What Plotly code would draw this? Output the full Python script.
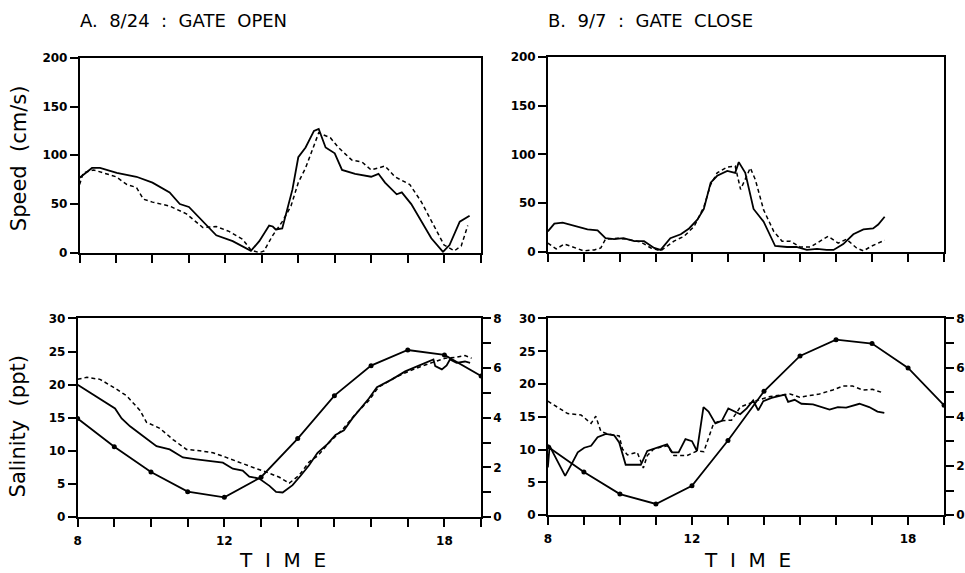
import plotly.graph_objects as go

# ---------------- DATA ----------------
# Panel A (8/24, gate open) - speed (cm/s)
a_spd_solid_t = [8.0, 8.2, 8.34, 8.56, 9.02, 9.56, 10.0, 10.47, 10.75, 11.0, 11.38, 11.75, 12.2, 12.7, 12.93, 13.2, 13.3, 13.38, 13.56, 13.84, 14.0, 14.2, 14.43, 14.56, 14.75, 14.93, 15.0, 15.2, 15.56, 16.0, 16.2, 16.38, 16.7, 16.84, 17.1, 17.65, 17.97, 18.15, 18.43, 18.7]
a_spd_solid_v = [77, 83, 87, 87, 82, 78, 72, 62, 50, 47, 32, 18, 12, 2, 12, 28, 27, 24, 25, 65, 98, 108, 125, 127, 108, 103, 102, 85, 81, 78, 81, 72, 60, 62, 50, 15, 1, 8, 32, 38]
a_spd_dash_t = [8.0, 8.1, 8.38, 8.65, 9.0, 9.3, 9.56, 9.75, 10.0, 10.47, 10.93, 11.38, 11.75, 12.1, 12.47, 12.7, 12.93, 13.06, 13.3, 13.56, 13.8, 14.0, 14.2, 14.56, 14.88, 15.1, 15.47, 15.75, 16.0, 16.38, 16.65, 17.06, 17.38, 18.0, 18.28, 18.47, 18.65]
a_spd_dash_v = [70, 82, 85, 82, 78, 70, 67, 55, 52, 48, 40, 26, 27, 22, 14, 3, 0, 2, 18, 32, 48, 72, 87, 123, 118, 108, 95, 93, 85, 89, 78, 70, 52, 8, 2, 7, 28]

# Panel B (9/7, gate close) - speed (cm/s)
b_spd_solid_t = [8.0, 8.18, 8.41, 8.83, 9.1, 9.38, 9.6, 9.84, 10.1, 10.4, 10.67, 10.95, 11.13, 11.4, 11.69, 11.92, 12.15, 12.33, 12.52, 12.7, 12.98, 13.2, 13.3, 13.48, 13.71, 13.99, 14.31, 14.64, 14.9, 15.19, 15.47, 15.74, 15.93, 16.2, 16.48, 16.76, 17.03, 17.17, 17.35]
b_spd_solid_v = [21, 29, 30, 26, 23, 22, 14, 13, 14, 11, 11, 4, 2, 14, 18, 24, 33, 44, 71, 78, 83, 81, 92, 81, 44, 31, 6, 5, 5, 2, 3, 2, 2, 8, 18, 23, 24, 28, 36]
b_spd_dash_t = [8.0, 8.23, 8.46, 8.74, 9.0, 9.29, 9.47, 9.6, 9.93, 10.2, 10.58, 10.86, 11.13, 11.5, 11.78, 12.06, 12.33, 12.52, 12.7, 12.98, 13.2, 13.35, 13.48, 13.62, 13.76, 13.99, 14.27, 14.5, 14.73, 15.0, 15.29, 15.56, 15.78, 16.06, 16.29, 16.57, 16.76, 16.99, 17.35]
b_spd_dash_v = [9, 3, 8, 4, 1, 2, 4, 13, 14, 13, 10, 4, 1, 11, 16, 26, 46, 69, 81, 87, 88, 64, 74, 86, 74, 43, 21, 11, 11, 5, 5, 11, 16, 9, 13, 4, 1, 6, 12]

# Panel A - salinity (ppt)
a_sal_solid_t = [8.0, 8.34, 8.7, 9.02, 9.2, 9.43, 9.79, 10.15, 10.51, 10.87, 11.24, 11.6, 11.96, 12.23, 12.5, 12.68, 12.95, 13.23, 13.41, 13.59, 13.86, 14.09, 14.31, 14.54, 14.81, 15.03, 15.26, 15.49, 15.76, 15.94, 16.16, 16.57, 16.93, 17.29, 17.7, 17.75, 17.93, 18.06, 18.15, 18.33, 18.56, 18.7]
a_sal_solid_v = [20.0, 18.8, 17.6, 16.4, 14.9, 13.7, 12.2, 10.7, 10.2, 9.0, 8.7, 8.5, 8.2, 7.3, 7.0, 6.1, 5.8, 4.7, 3.8, 3.7, 4.8, 6.3, 7.8, 9.7, 11.0, 12.4, 13.1, 14.9, 16.6, 17.9, 19.6, 20.8, 22.0, 22.8, 23.8, 22.8, 22.3, 22.9, 23.8, 23.3, 23.5, 23.3]
a_sal_dash_t = [8.0, 8.25, 8.61, 8.98, 9.34, 9.7, 9.88, 10.24, 10.6, 10.97, 11.33, 11.69, 12.05, 12.41, 12.77, 13.14, 13.5, 13.77, 14.04, 14.31, 14.54, 14.85, 15.22, 15.58, 15.94, 16.2, 16.66, 17.02, 17.38, 17.75, 18.02, 18.29, 18.56, 18.74]
a_sal_dash_v = [20.8, 21.1, 20.8, 19.6, 18.3, 16.1, 14.3, 13.4, 11.7, 10.2, 10.0, 9.7, 9.0, 8.2, 7.5, 6.8, 6.0, 5.1, 6.3, 8.3, 9.2, 11.2, 13.2, 15.6, 17.6, 19.6, 21.1, 22.0, 22.8, 23.5, 24.0, 24.1, 24.4, 24.0]
# Panel A - hourly level (right axis, 0-8)
a_lvl_t = [8, 9, 10, 11, 12, 13, 14, 15, 16, 17, 18, 19]
a_lvl_v = [3.97, 2.83, 1.81, 1.02, 0.79, 1.6, 3.16, 4.89, 6.10, 6.73, 6.53, 5.68]

# Panel B - salinity (ppt)
b_sal_solid_t = [8.0, 8.05, 8.14, 8.32, 8.48, 8.64, 8.83, 9.01, 9.2, 9.38, 9.61, 9.84, 9.98, 10.16, 10.39, 10.58, 10.76, 11.04, 11.31, 11.45, 11.63, 11.82, 12.0, 12.14, 12.32, 12.46, 12.65, 12.83, 13.01, 13.34, 13.52, 13.7, 13.84, 13.98, 14.21, 14.58, 14.67, 14.85, 15.04, 15.36, 15.82, 16.05, 16.28, 16.65, 16.92, 17.15, 17.34]
b_sal_solid_v = [7.3, 10.6, 9.6, 7.6, 6.0, 7.6, 9.6, 10.3, 10.6, 11.9, 12.4, 12.2, 11.1, 7.7, 7.7, 7.7, 9.8, 10.3, 10.8, 9.6, 9.6, 11.6, 11.3, 9.8, 16.5, 15.8, 14.0, 14.4, 16.3, 15.4, 16.3, 17.5, 16.0, 17.4, 17.9, 18.4, 17.3, 17.6, 17.0, 16.9, 16.1, 16.5, 16.4, 17.0, 16.5, 15.8, 15.6]
b_sal_dash_t = [8.0, 8.28, 8.55, 8.92, 9.2, 9.33, 9.47, 9.66, 9.98, 10.07, 10.21, 10.48, 10.65, 10.76, 10.94, 11.31, 11.5, 11.86, 12.14, 12.33, 12.6, 12.78, 13.1, 13.34, 13.8, 14.17, 14.54, 14.72, 14.99, 15.27, 15.54, 15.91, 16.19, 16.46, 16.74, 17.01, 17.29]
b_sal_dash_v = [17.4, 16.5, 15.5, 15.3, 14.0, 15.1, 12.8, 12.4, 12.1, 10.1, 9.2, 9.6, 7.2, 9.1, 10.1, 10.6, 9.1, 9.1, 9.8, 9.7, 14.0, 14.4, 14.5, 16.5, 17.5, 18.1, 18.4, 18.5, 18.0, 18.2, 18.5, 19.1, 19.7, 19.7, 19.1, 19.2, 18.7]
# Panel B - hourly level (right axis, 0-8)
b_lvl_t = [8, 9, 10, 11, 12, 13, 14, 15, 16, 17, 18, 19]
b_lvl_v = [2.79, 1.76, 0.86, 0.46, 1.20, 3.04, 5.04, 6.48, 7.14, 6.98, 5.99, 4.47]

hours = list(range(8, 20))
bottom_tick_text = ["8", "", "", "", "12", "", "", "", "", "", "18", ""]
speed_ticks = [0, 50, 100, 150, 200]
sal_ticks = [0, 5, 10, 15, 20, 25, 30]
lvl_ticks = [0, 1, 2, 3, 4, 5, 6, 7, 8]
lvl_text = ["0", "", "2", "", "4", "", "6", "", "8"]

titles = ["A.  8/24  :  GATE  OPEN", "B.  9/7  :  GATE  CLOSE"]

# ---------------- FIGURE ----------------
W, H = 965, 573
def px(x):
    return x / W
def py(y):
    return 1 - y / H

FONT = "DejaVu Sans"
BLK = "black"
fig = go.Figure()

solid = dict(color=BLK, width=1.8)
dash = dict(color=BLK, width=1.5, dash="4px,3px")

fig.add_trace(go.Scatter(x=a_spd_solid_t, y=a_spd_solid_v, mode="lines", line=solid, xaxis="x", yaxis="y"))
fig.add_trace(go.Scatter(x=a_spd_dash_t, y=a_spd_dash_v, mode="lines", line=dash, xaxis="x", yaxis="y"))
fig.add_trace(go.Scatter(x=b_spd_solid_t, y=b_spd_solid_v, mode="lines", line=solid, xaxis="x2", yaxis="y2"))
fig.add_trace(go.Scatter(x=b_spd_dash_t, y=b_spd_dash_v, mode="lines", line=dash, xaxis="x2", yaxis="y2"))

fig.add_trace(go.Scatter(x=a_sal_solid_t, y=a_sal_solid_v, mode="lines", line=solid, xaxis="x3", yaxis="y3"))
fig.add_trace(go.Scatter(x=a_sal_dash_t, y=a_sal_dash_v, mode="lines", line=dash, xaxis="x3", yaxis="y3"))
fig.add_trace(go.Scatter(x=a_lvl_t, y=a_lvl_v, mode="lines+markers", line=solid,
                         marker=dict(size=5, color=BLK), xaxis="x3", yaxis="y5"))
fig.add_trace(go.Scatter(x=b_sal_solid_t, y=b_sal_solid_v, mode="lines", line=solid, xaxis="x4", yaxis="y4"))
fig.add_trace(go.Scatter(x=b_sal_dash_t, y=b_sal_dash_v, mode="lines", line=dash, xaxis="x4", yaxis="y4"))
fig.add_trace(go.Scatter(x=b_lvl_t, y=b_lvl_v, mode="lines+markers", line=solid,
                         marker=dict(size=5, color=BLK), xaxis="x4", yaxis="y6"))

tickfont = dict(family=FONT, size=12, color=BLK, weight="bold")
common_axis = dict(showline=True, linecolor=BLK, linewidth=1.5, ticks="outside", ticklen=8,
                   tickwidth=1.5, tickcolor=BLK, showgrid=False, zeroline=False,
                   tickfont=tickfont, fixedrange=True)

def xax(domain, anchor, labels):
    d = dict(common_axis)
    d.update(domain=domain, anchor=anchor, range=[8, 19], tickmode="array", tickvals=hours,
             mirror=True)
    if labels:
        d.update(ticktext=bottom_tick_text, ticklabelstandoff=4)
    else:
        d.update(showticklabels=False)
    return d

def yax(domain, anchor, rng, vals):
    d = dict(common_axis)
    d.update(domain=domain, anchor=anchor, range=rng, tickmode="array", tickvals=vals,
             mirror=True, ticklabelstandoff=0)
    return d

top_a_x = [px(76), px(479)]
top_b_x = [px(546.7), px(945)]
bot_a_x = [px(74), px(479.6)]
bot_b_x = [px(546.7), px(945)]
top_y = [py(252), py(52)]
top_b_y = [py(251), py(51)]
bot_a_y = [py(522.7), py(319.3)]
bot_b_y = [py(521), py(319.3)]

y5 = dict(common_axis)
y5.update(overlaying="y3", anchor="x3", side="right", range=[0, 8], tickmode="array",
          tickvals=lvl_ticks, ticktext=lvl_text, ticklabelstandoff=0)
y6 = dict(common_axis)
y6.update(overlaying="y4", anchor="x4", side="right", range=[0, 8], tickmode="array",
          tickvals=lvl_ticks, ticktext=lvl_text, ticklabelstandoff=0)

fig.update_layout(
    width=W, height=H, margin=dict(l=0, r=0, t=0, b=0),
    paper_bgcolor="white", plot_bgcolor="white", showlegend=False,
    xaxis=xax(top_a_x, "y", False),
    yaxis=yax(top_y, "x", [0, 200], speed_ticks),
    xaxis2=xax(top_b_x, "y2", False),
    yaxis2=yax(top_b_y, "x2", [0, 200], speed_ticks),
    xaxis3=xax(bot_a_x, "y3", True),
    yaxis3=yax(bot_a_y, "x3", [0, 30], sal_ticks),
    xaxis4=xax(bot_b_x, "y4", True),
    yaxis4=yax(bot_b_y, "x4", [0, 30], sal_ticks),
    yaxis5=y5,
    yaxis6=y6,
)

title_font = dict(family=FONT, size=18, color=BLK)
label_font = dict(family=FONT, size=21, color=BLK)
time_font = dict(family=FONT, size=20, color=BLK)
anns = [
    dict(text=titles[0], x=px(74), y=py(14), xanchor="left", yanchor="middle", font=title_font),
    dict(text=titles[1], x=px(545), y=py(14), xanchor="left", yanchor="middle", font=title_font),
    dict(text="Speed  (cm/s)", x=px(15), y=py(155), textangle=-90, xanchor="center",
         yanchor="middle", font=label_font),
    dict(text="Salinity  (ppt)", x=px(15), y=py(430), textangle=-90, xanchor="center",
         yanchor="middle", font=label_font),
    dict(text="T  I  M  E", x=px(280), y=py(567), xanchor="center", yanchor="middle", font=time_font),
    dict(text="T  I  M  E", x=px(747), y=py(567), xanchor="center", yanchor="middle", font=time_font),
]
for a in anns:
    a.update(xref="paper", yref="paper", showarrow=False)
fig.update_layout(annotations=anns)

fig.write_html("out.html")
